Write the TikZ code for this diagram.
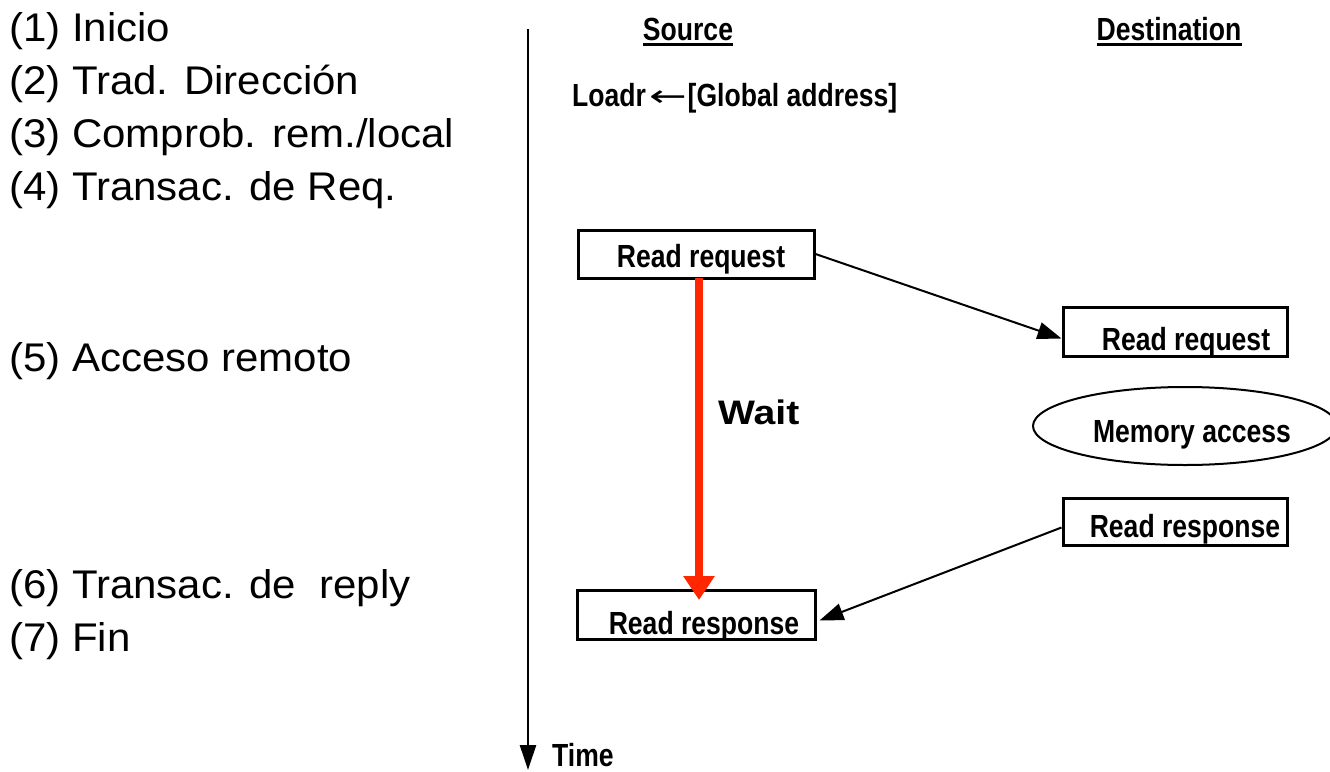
\documentclass[tikz,border=0pt]{standalone}
\usepackage{fontspec}
\setmainfont{Liberation Sans}
\newfontfamily\listfont[FakeStretch=1.05]{Liberation Sans}
\newfontfamily\labelfont[FakeStretch=0.83]{Liberation Sans Bold}
\newfontfamily\waitfont[FakeStretch=1.15]{Liberation Sans Bold}
\newfontfamily\arrowfont{DejaVu Sans}
\usetikzlibrary{arrows.meta,shapes.geometric,calc}

\begin{document}
\begin{tikzpicture}[x=1pt,y=-1pt,
  listtext/.style={anchor=base west, inner sep=0pt,
    font=\listfont\fontsize{40}{46}\selectfont},
  lbl/.style={anchor=base, inner sep=0pt,
    font=\labelfont\fontsize{32}{38}\selectfont},
  msgbox/.style={draw, line width=3pt, rectangle, inner sep=0pt},
  msgarrow/.style={line width=2pt, -{Triangle[length=24pt,width=17pt]}},
  waitarrow/.style={line width=8pt, draw={rgb,255:red,255;green,38;blue,0},
    -{Triangle[length=24pt,width=30pt]}},
  headline/.style={line width=3pt}
]
\useasboundingbox (0,0) rectangle (1330,771);

% protocol steps
\node[listtext] (s1) at (9,41)  {(1) Inicio};
\node[listtext] (s2) at (9,94)  {(2) Trad. Dirección};
\node[listtext] (s3) at (9,147) {(3) Comprob. rem./local};
\node[listtext] (s4) at (9,200) {(4) Transac. de Req.};
\node[listtext] (s5) at (9,371) {(5) Acceso remoto};
\node[listtext] (s6) at (9,598) {(6) Transac. de\ \ reply};
\node[listtext] (s7) at (9,651) {(7) Fin};

% time axis
\coordinate (ttop) at (528,29);
\coordinate (tbot) at (528,770);
\draw[line width=2.5pt, -{Triangle[length=25pt,width=16pt]}] (ttop) -- (tbot);
\node[lbl, anchor=base west] (time) at (552,766) {Time};

% column headers
\node[lbl] (hsrc) at (688,40) {Source};
\draw[headline] ([yshift=-4pt]hsrc.base west) -- ([yshift=-4pt]hsrc.base east);
\node[lbl] (hdst) at (1169,40) {Destination};
\draw[headline] ([yshift=-4pt]hdst.base west) -- ([yshift=-4pt]hdst.base east);

% address translation
\node[lbl, anchor=base west] (loadr) at (572,106)
  {Loadr\hspace{4pt}{\arrowfont\fontsize{30}{36}\selectfont\scalebox{1.5}[1]{←}}[Global address]};

% source side
\node[msgbox, minimum width=236pt, minimum height=48pt] (srcreq) at (696,254) {};
\node[lbl] (srcreqt) at (701,267) {Read request};
\node[msgbox, minimum width=238pt, minimum height=49pt] (srcresp) at (696,614.5) {};
\node[lbl] (srcrespt) at (704,634) {Read response};

% destination side
\node[msgbox, minimum width=224pt, minimum height=49pt] (dstreq) at (1175,331.5) {};
\node[lbl] (dstreqt) at (1186,350) {Read request};
\node[draw, ellipse, line width=2pt, minimum width=304pt, minimum height=78pt,
  inner sep=0pt] (mem) at (1185,426) {};
\node[lbl] (memt) at (1192,442) {Memory access};
\node[msgbox, minimum width=224pt, minimum height=47pt] (dstresp) at (1175,521.5) {};
\node[lbl] (dstrespt) at (1185,537) {Read response};

% waiting interval
\coordinate (wtop) at (699,278);
\coordinate (wbot) at (699,600);
\draw[waitarrow] (wtop) -- (wbot);
\node[anchor=base west, inner sep=0pt,
  font=\waitfont\fontsize{34}{40}\selectfont] (wait) at (718,424) {Wait};

% messages
\draw[msgarrow] (srcreq.east) -- ($(dstreq.west)+(0,7)$);
\draw[msgarrow] ($(dstresp.west)+(0,6)$) -- ($(srcresp.east)+(3,6)$);
\end{tikzpicture}
\end{document}
